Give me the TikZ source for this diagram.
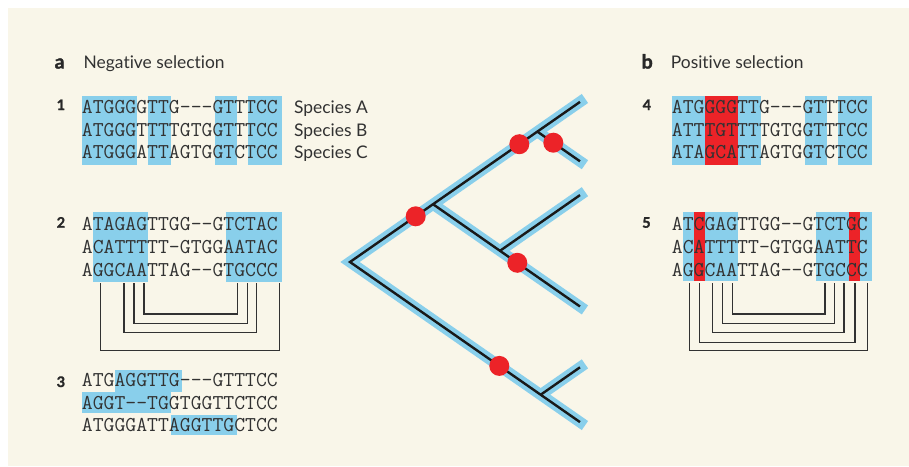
\documentclass[tikz,border=0pt]{standalone}
\usepackage{fontspec}
\newfontfamily\lato[Ligatures=NoCommon]{Lato}
\newfontfamily\latoheavy[Ligatures=NoCommon,FakeBold=1.6]{Lato Bold}
\definecolor{cream}{RGB}{249,246,233}
\definecolor{hblue}{RGB}{137,207,235}
\definecolor{hred}{RGB}{236,35,40}
\definecolor{ink}{RGB}{50,50,50}
\tikzset{
  seq/.style={anchor=base west, inner sep=0pt, text=ink, font=\ttfamily\fontsize{21.14}{21.14}\selectfont},
  lab/.style={anchor=base west, inner sep=0pt, text=ink, font=\lato\fontsize{17.4}{17.4}\selectfont},
  letter/.style={anchor=base west, inner sep=0pt, text=ink!80!black, font=\latoheavy\fontsize{19.5}{19.5}\selectfont},
  num/.style={anchor=base west, inner sep=0pt, text=ink!80!black, font=\latoheavy\fontsize{14.5}{14.5}\selectfont},
  pairline/.style={draw=ink, line width=1.3pt},
  bluebr/.style={draw=hblue, line width=11pt, line join=miter, shorten <=-6pt, shorten >=-6pt},
  blackbr/.style={draw=black!90, line width=2.4pt, line join=miter},
  dot/.style={circle, fill=hred, inner sep=0pt, minimum size=20pt}
}
\def\p{11.1}
% \hlbox{x0}{i}{j}{top}{bottom}{colour}
\newcommand\hlbox[6]{\fill[#6] ({#1+#2*\p},#4) rectangle ({#1+(#3+1)*\p},#5);}
\newcommand\pairs[4]{\draw[pairline] (#1,#4) -- (#1,#3) -- (#2,#3) -- (#2,#4);}
\begin{document}
\begin{tikzpicture}[x=1pt,y=-1pt]
\useasboundingbox (0,0) rectangle (909,466);
\fill[white] (0,0) rectangle (909,466);
\fill[cream] (8,8) rectangle (909,466);

% ---------- headings ----------
\node[letter] (la) at (54.5,68.5) {a};
\node[lab] (ta) at (83.5,68.5) {Negative selection};
\node[letter] (lb) at (641.5,68.5) {b};
\node[lab] (tb) at (670.7,68.5) {Positive selection};

% ---------- panel 1 ----------
\hlbox{81.7}{0}{4}{96}{165}{hblue}
\hlbox{81.7}{6}{7}{96}{165}{hblue}
\hlbox{81.7}{12}{13}{96}{165}{hblue}
\hlbox{81.7}{15}{17}{96}{165}{hblue}
\node[num] (n1) at (56.5,110) {1};
\node[seq] (s1a) at (81.7,113.5) {ATGGGGTTG-{}-{}-GTTTCC};
\node[seq] (s1b) at (81.7,136) {ATGGGTTTTGTGGTTTCC};
\node[seq] (s1c) at (81.7,158.3) {ATGGGATTAGTGGTCTCC};
\node[lab] (spa) at (294,113.5) {Species A};
\node[lab] (spb) at (294,136) {Species B};
\node[lab] (spc) at (294,158.3) {Species C};

% ---------- panel 2 ----------
\hlbox{81.7}{1}{5}{212.3}{281.7}{hblue}
\hlbox{81.7}{13}{17}{212.3}{281.7}{hblue}
\node[num] (n2) at (56.5,227.7) {2};
\node[seq] (s2a) at (81.7,230) {ATAGAGTTGG-{}-GTCTAC};
\node[seq] (s2b) at (81.7,253) {ACATTTTT-GTGGAATAC};
\node[seq] (s2c) at (81.7,276) {AGGCAATTAG-{}-GTGCCC};
\pairs{144}{237.3}{314}{283.3}
\pairs{134}{247.3}{323.3}{283.3}
\pairs{124}{256.7}{332.7}{283.3}
\pairs{100.7}{279.3}{350.7}{283.3}

% ---------- panel 3 ----------
\hlbox{81.7}{3}{8}{370}{391.7}{hblue}
\hlbox{81.7}{0}{7}{391.7}{412.7}{hblue}
\hlbox{81.7}{8}{13}{414.5}{435}{hblue}
\node[num] (n3) at (56.5,387) {3};
\node[seq] (s3a) at (81.7,386.7) {ATGAGGTTG-{}-{}-GTTTCC};
\node[seq] (s3b) at (81.7,409.3) {AGGT-{}-TGGTGGTTCTCC};
\node[seq] (s3c) at (81.7,431.7) {ATGGGATTAGGTTGCTCC};

% ---------- panel 4 ----------
\hlbox{671.7}{0}{7}{96}{165}{hblue}
\hlbox{671.7}{12}{13}{96}{165}{hblue}
\hlbox{671.7}{15}{17}{96}{165}{hblue}
\hlbox{671.7}{3}{5}{96}{165}{hred}
\node[num] (n4) at (642.5,110) {4};
\node[seq] (s4a) at (671.7,113.5) {ATGGGGTTG-{}-{}-GTTTCC};
\node[seq] (s4b) at (671.7,136) {ATTTGTTTTGTGGTTTCC};
\node[seq] (s4c) at (671.7,158.3) {ATAGCATTAGTGGTCTCC};

% ---------- panel 5 ----------
\hlbox{671.7}{1}{5}{212.3}{281.3}{hblue}
\hlbox{671.7}{13}{17}{212.3}{281.3}{hblue}
\hlbox{671.7}{2}{2}{212.3}{281.3}{hred}
\hlbox{671.7}{16}{16}{212.3}{281.3}{hred}
\node[num] (n5) at (642,227.7) {5};
\node[seq] (s5a) at (671.7,230) {ATCGAGTTGG-{}-GTCTGC};
\node[seq] (s5b) at (671.7,253) {ACATTTTT-GTGGAATTC};
\node[seq] (s5c) at (671.7,276) {AGGCAATTAG-{}-GTGCCC};
\pairs{732.3}{825}{314}{283.3}
\pairs{722.3}{834.7}{323.3}{283.3}
\pairs{712.7}{844}{332.7}{283.3}
\pairs{699.3}{855}{342.7}{283.3}
\pairs{689.3}{867.7}{350.7}{283.3}

% ---------- tree ----------
\coordinate (R) at (350,262);
\coordinate (T1) at (580,101.9);
\coordinate (N1) at (433,204.2);
\coordinate (NA) at (537.3,131.6);
\coordinate (T2) at (580,161.3);
\coordinate (NB) at (500,250.8);
\coordinate (T3) at (580,195.1);
\coordinate (T4) at (580,306.5);
\coordinate (NC) at (540.7,394.7);
\coordinate (T5) at (580,367.3);
\coordinate (T6) at (580,422.1);

\draw[bluebr] (T1) -- (R) -- (T6);
\draw[bluebr, shorten <=0pt] (N1) -- (T4);
\draw[bluebr, shorten <=0pt] (NB) -- (T3);
\draw[bluebr, shorten <=0pt] (NA) -- (T2);
\draw[bluebr, shorten <=0pt] (NC) -- (T5);

\draw[blackbr] (T1) -- (R) -- (T6);
\draw[blackbr] (N1) -- (T4);
\draw[blackbr] (NB) -- (T3);
\draw[blackbr] (NA) -- (T2);
\draw[blackbr] (NC) -- (T5);

\node[dot] (d1) at (519.3,144.2) {};
\node[dot] (d2) at (553.3,142.7) {};
\node[dot] (d3) at (415.7,216.3) {};
\node[dot] (d4) at (517.3,262.8) {};
\node[dot] (d5) at (499.3,365.9) {};
\end{tikzpicture}
\end{document}
